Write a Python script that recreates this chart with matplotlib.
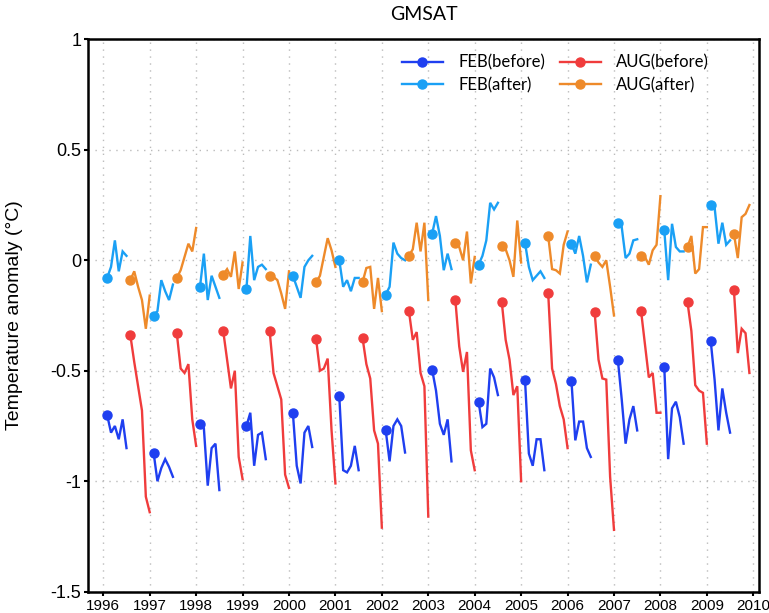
import matplotlib
matplotlib.use('Agg')
import matplotlib.pyplot as plt
from matplotlib.lines import Line2D
from matplotlib.legend_handler import HandlerLine2D

# forecasts start every Feb and Aug, 1996-2009
start_years = list(range(1996, 2010))

feb_after = [
    [-0.08, -0.03, 0.09, -0.05, 0.04, 0.02],
    [-0.25, -0.23, -0.09, -0.14, -0.18, -0.11],
    [-0.12, 0.03, -0.18, -0.07, -0.12, -0.17],
    [-0.13, 0.11, -0.09, -0.03, -0.02, -0.04],
    [-0.07, -0.12, -0.17, -0.03, 0.0, 0.02],
    [0.0, -0.12, -0.09, -0.14, -0.08, -0.08],
    [-0.155, -0.12, 0.08, 0.03, 0.01, 0.0],
    [0.12, 0.20, 0.11, -0.045, 0.03, -0.04],
    [-0.02, 0.02, 0.09, 0.26, 0.23, 0.26],
    [0.08, -0.03, -0.09, -0.07, -0.05, -0.08],
    [0.075, 0.03, 0.11, 0.02, -0.10, -0.02],
    [0.17, 0.15, 0.01, 0.03, 0.09, 0.095],
    [0.135, -0.09, 0.165, 0.06, 0.04, 0.04],
    [0.25, 0.24, 0.075, 0.17, 0.07, 0.09],
]

aug_after = [
    [-0.09, -0.05, -0.12, -0.18, -0.31, -0.16],
    [-0.08, -0.045, 0.015, 0.075, 0.04, 0.146],
    [-0.065, -0.04, -0.075, 0.04, -0.13, -0.01],
    [-0.07, -0.075, -0.09, -0.15, -0.22, -0.05],
    [-0.10, -0.07, 0.015, 0.10, 0.045, -0.03],
    [-0.10, -0.035, -0.03, -0.22, -0.08, -0.23],
    [0.02, 0.05, 0.17, 0.04, 0.17, -0.18],
    [0.08, 0.06, 0.0, 0.13, -0.105, 0.015],
    [0.065, 0.05, 0.0, -0.075, 0.18, -0.01],
    [0.11, -0.04, -0.045, -0.06, 0.07, 0.13],
    [0.02, -0.01, -0.03, 0.0, -0.12, -0.25],
    [0.02, 0.015, -0.02, 0.045, 0.07, 0.29],
    [0.06, 0.11, -0.06, -0.04, 0.15, 0.15],
    [0.12, 0.01, 0.195, 0.21, 0.25],
]

feb_before = [
    [-0.70, -0.78, -0.75, -0.81, -0.72, -0.85],
    [-0.87, -1.0, -0.94, -0.90, -0.935, -0.98],
    [-0.74, -0.76, -1.02, -0.85, -0.83, -1.04],
    [-0.75, -0.69, -0.93, -0.79, -0.78, -0.90],
    [-0.69, -0.93, -1.01, -0.78, -0.75, -0.845],
    [-0.615, -0.95, -0.96, -0.93, -0.84, -0.95],
    [-0.77, -0.91, -0.75, -0.72, -0.75, -0.87],
    [-0.495, -0.59, -0.74, -0.79, -0.72, -0.91],
    [-0.64, -0.755, -0.74, -0.49, -0.53, -0.61],
    [-0.54, -0.875, -0.93, -0.81, -0.81, -0.95],
    [-0.545, -0.815, -0.73, -0.73, -0.85, -0.89],
    [-0.45, -0.63, -0.83, -0.72, -0.66, -0.77],
    [-0.485, -0.90, -0.67, -0.64, -0.71, -0.83],
    [-0.365, -0.54, -0.77, -0.58, -0.69, -0.78],
]

aug_before = [
    [-0.34, -0.46, -0.57, -0.68, -1.07, -1.14],
    [-0.33, -0.49, -0.51, -0.47, -0.72, -0.84],
    [-0.32, -0.45, -0.58, -0.50, -0.89, -0.99],
    [-0.32, -0.51, -0.57, -0.63, -0.97, -1.03],
    [-0.355, -0.50, -0.49, -0.445, -0.77, -1.01],
    [-0.35, -0.47, -0.535, -0.77, -0.83, -1.21],
    [-0.23, -0.36, -0.325, -0.51, -0.57, -1.16],
    [-0.18, -0.39, -0.505, -0.415, -0.86, -0.95],
    [-0.19, -0.36, -0.45, -0.61, -0.57, -1.0],
    [-0.15, -0.49, -0.56, -0.66, -0.72, -0.85],
    [-0.235, -0.45, -0.535, -0.54, -0.98, -1.22],
    [-0.23, -0.38, -0.53, -0.51, -0.69, -0.69],
    [-0.19, -0.32, -0.565, -0.59, -0.60, -0.83],
    [-0.135, -0.42, -0.31, -0.33, -0.51],
]

year_ticks = list(range(1996, 2011))
y_ticks = [-1.5, -1, -0.5, 0, 0.5, 1]
y_ticklabels = ['-1.5', '-1', '-0.5', '0', '0.5', '1']

c_feb_b = '#1f3ff0'
c_feb_a = '#1aa0f5'
c_aug_b = '#f03c3c'
c_aug_a = '#ee8a2a'


class DotAtStart(HandlerLine2D):
    def get_xdata(self, legend, xdescent, ydescent, width, height, fontsize):
        xdata, _ = super().get_xdata(legend, xdescent, ydescent, width, height, fontsize)
        return xdata, [xdata[0]]


def draw_runs(ax, runs, start_month, color):
    for yr, vals in zip(start_years, runs):
        x = [yr + (start_month - 1 + i) / 12.0 for i in range(len(vals))]
        ax.plot(x, vals, color=color, lw=1.7, solid_joinstyle='miter', zorder=3)
        ax.plot(x[0], vals[0], 'o', color=color, ms=6.5, zorder=4)


fig = plt.figure(figsize=(7.69, 6.13), dpi=100)
ax = fig.add_axes([0.1148, 0.0347, 0.8726, 0.9012])

draw_runs(ax, feb_before, 2, c_feb_b)
draw_runs(ax, aug_before, 8, c_aug_b)
draw_runs(ax, feb_after, 2, c_feb_a)
draw_runs(ax, aug_after, 8, c_aug_a)

ax.set_xlim(1995.677, 2010.13)
ax.set_ylim(-1.5, 1)
ax.set_xticks(year_ticks)
ax.set_xticklabels([str(y) for y in year_ticks],
                   fontfamily=['Liberation Sans Narrow', 'Liberation Sans'], fontsize=11)
ax.set_yticks(y_ticks)
ax.set_yticklabels(y_ticklabels, fontfamily='Liberation Sans', fontsize=13)
ax.tick_params(direction='out', length=3, width=1.5, pad=2)
ax.grid(True, color='#bbbbbb', linestyle=(0, (1, 4)), linewidth=1)
for s in ax.spines.values():
    s.set_linewidth(1.8)

ax.set_ylabel('Temperature anomaly (°C)', fontfamily='Liberation Sans', fontsize=14)
ax.yaxis.set_label_coords(-0.097, 0.5)
ax.text(0.5, 1.044, 'GMSAT', transform=ax.transAxes, ha='center', va='center',
        fontfamily='Lato', fontsize=14)

handles = [
    Line2D([], [], color=c_feb_b, lw=1.7, marker='o', ms=6.5),
    Line2D([], [], color=c_feb_a, lw=1.7, marker='o', ms=6.5),
    Line2D([], [], color=c_aug_b, lw=1.7, marker='o', ms=6.5),
    Line2D([], [], color=c_aug_a, lw=1.7, marker='o', ms=6.5),
]
labels = ['FEB(before)', 'FEB(after)', 'AUG(before)', 'AUG(after)']
leg = ax.legend(handles, labels, ncol=2, loc='upper left', bbox_to_anchor=(0.4675, 0.973),
                frameon=False, borderpad=0, borderaxespad=0, handlelength=2.45,
                handletextpad=0.95, columnspacing=0.85, labelspacing=0.4,
                prop={'family': 'Lato', 'size': 12},
                handler_map={Line2D: DotAtStart(numpoints=1)})

fig.savefig('out.png', dpi=100)
